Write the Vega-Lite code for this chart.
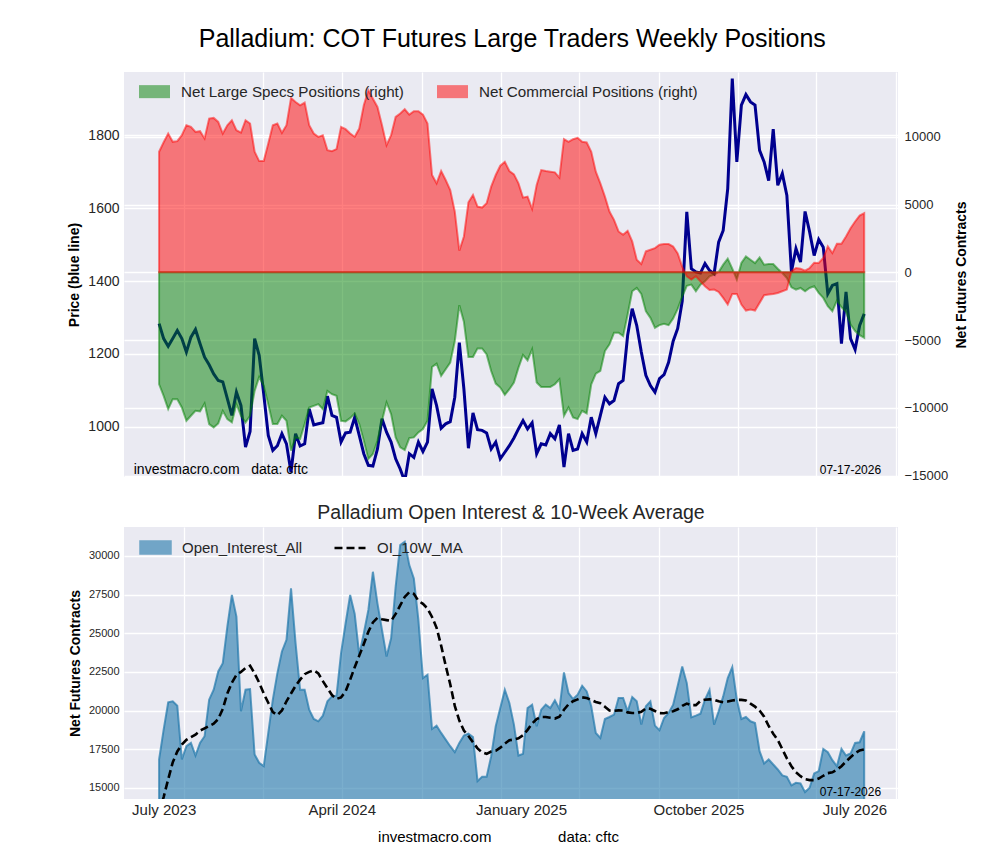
{
  "$schema": "https://vega.github.io/schema/vega-lite/v6.json",
  "background": "white",
  "padding": {"left": 67, "top": 27, "right": 5, "bottom": 5},
  "title": {"text": "Palladium: COT Futures Large Traders Weekly Positions", "fontSize": 25, "offset": 20, "dx": -6, "anchor": "middle", "color": "black", "fontWeight": "normal", "font": "Liberation Sans"},
  "datasets": {
    "cot": [
      {"date":"2023-07-25","price":1283,"specs":-8257,"comm":8894,"oi":16830,"ma":13400},
      {"date":"2023-08-01","price":1242,"specs":-9114,"comm":9600,"oi":18765,"ma":14400},
      {"date":"2023-08-08","price":1221,"specs":-10094,"comm":10241,"oi":20528,"ma":15550},
      {"date":"2023-08-15","price":1242,"specs":-9359,"comm":9628,"oi":20593,"ma":16650},
      {"date":"2023-08-22","price":1264,"specs":-9359,"comm":9677,"oi":20313,"ma":17350},
      {"date":"2023-08-29","price":1242,"specs":-9972,"comm":10118,"oi":16830,"ma":17800},
      {"date":"2023-09-05","price":1205,"specs":-10952,"comm":10853,"oi":17690,"ma":18100},
      {"date":"2023-09-12","price":1246,"specs":-10584,"comm":10731,"oi":17905,"ma":18280},
      {"date":"2023-09-19","price":1267,"specs":-10217,"comm":10363,"oi":17088,"ma":18440},
      {"date":"2023-09-26","price":1228,"specs":-10266,"comm":10412,"oi":17905,"ma":18700},
      {"date":"2023-10-03","price":1191,"specs":-9678,"comm":9873,"oi":18335,"ma":18850},
      {"date":"2023-10-10","price":1170,"specs":-11197,"comm":11343,"oi":20700,"ma":19000},
      {"date":"2023-10-17","price":1145,"specs":-11442,"comm":11392,"oi":21345,"ma":19150},
      {"date":"2023-10-24","price":1127,"specs":-11148,"comm":11098,"oi":22528,"ma":19450},
      {"date":"2023-10-31","price":1123,"specs":-10217,"comm":10241,"oi":23065,"ma":20100},
      {"date":"2023-11-07","price":1077,"specs":-10829,"comm":10853,"oi":25430,"ma":21100},
      {"date":"2023-11-14","price":1031,"specs":-11074,"comm":11221,"oi":27473,"ma":21800},
      {"date":"2023-11-21","price":1095,"specs":-9727,"comm":10486,"oi":26075,"ma":22300},
      {"date":"2023-11-28","price":1058,"specs":-10584,"comm":10314,"oi":19948,"ma":22500},
      {"date":"2023-12-05","price":944,"specs":-11074,"comm":11221,"oi":21345,"ma":22750},
      {"date":"2023-12-12","price":987,"specs":-10584,"comm":10976,"oi":21388,"ma":22900},
      {"date":"2023-12-19","price":1242,"specs":-8747,"comm":8894,"oi":17153,"ma":22400},
      {"date":"2023-12-26","price":1196,"specs":-7718,"comm":8208,"oi":16615,"ma":21800},
      {"date":"2024-01-02","price":1090,"specs":-8379,"comm":8208,"oi":16400,"ma":21100},
      {"date":"2024-01-09","price":976,"specs":-9727,"comm":9506,"oi":18550,"ma":20500},
      {"date":"2024-01-16","price":935,"specs":-11197,"comm":10853,"oi":20700,"ma":19900},
      {"date":"2024-01-23","price":948,"specs":-11197,"comm":10976,"oi":22420,"ma":19700},
      {"date":"2024-01-30","price":981,"specs":-10584,"comm":10290,"oi":23818,"ma":20000},
      {"date":"2024-02-06","price":953,"specs":-10952,"comm":10853,"oi":24570,"ma":20600},
      {"date":"2024-02-13","price":875,"specs":-13157,"comm":12863,"oi":27903,"ma":21100},
      {"date":"2024-02-20","price":981,"specs":-12177,"comm":12569,"oi":24355,"ma":21600},
      {"date":"2024-02-27","price":947,"specs":-12299,"comm":12324,"oi":21345,"ma":22000},
      {"date":"2024-03-05","price":953,"specs":-11197,"comm":12520,"oi":21345,"ma":22350},
      {"date":"2024-03-12","price":1049,"specs":-9972,"comm":10853,"oi":20055,"ma":22500},
      {"date":"2024-03-19","price":1005,"specs":-9849,"comm":10241,"oi":19453,"ma":22600},
      {"date":"2024-03-26","price":1008,"specs":-9727,"comm":9996,"oi":19303,"ma":22400},
      {"date":"2024-04-02","price":1011,"specs":-10094,"comm":10118,"oi":19668,"ma":21900},
      {"date":"2024-04-09","price":1084,"specs":-8747,"comm":9016,"oi":20593,"ma":21450},
      {"date":"2024-04-16","price":1031,"specs":-8992,"comm":8943,"oi":20915,"ma":21000},
      {"date":"2024-04-23","price":1026,"specs":-9114,"comm":9090,"oi":20958,"ma":20750},
      {"date":"2024-04-30","price":958,"specs":-10952,"comm":10731,"oi":23710,"ma":20850},
      {"date":"2024-05-07","price":983,"specs":-11000,"comm":10560,"oi":25645,"ma":21240},
      {"date":"2024-05-14","price":985,"specs":-10756,"comm":10241,"oi":27473,"ma":21990},
      {"date":"2024-05-21","price":1026,"specs":-10413,"comm":9996,"oi":26247,"ma":22800},
      {"date":"2024-05-28","price":976,"specs":-11197,"comm":10608,"oi":23603,"ma":23550},
      {"date":"2024-06-04","price":926,"specs":-12422,"comm":12324,"oi":24999,"ma":24300},
      {"date":"2024-06-11","price":894,"specs":-13769,"comm":13426,"oi":26505,"ma":25100},
      {"date":"2024-06-18","price":892,"specs":-13402,"comm":12814,"oi":28978,"ma":25700},
      {"date":"2024-06-25","price":939,"specs":-12422,"comm":12201,"oi":26935,"ma":26000},
      {"date":"2024-07-02","price":1022,"specs":-10952,"comm":10853,"oi":25215,"ma":25900},
      {"date":"2024-07-09","price":985,"specs":-9604,"comm":9384,"oi":23495,"ma":25850},
      {"date":"2024-07-16","price":958,"specs":-10462,"comm":10118,"oi":24678,"ma":25800},
      {"date":"2024-07-23","price":912,"specs":-12177,"comm":11466,"oi":28010,"ma":26250},
      {"date":"2024-07-30","price":884,"specs":-12912,"comm":11711,"oi":30698,"ma":26800},
      {"date":"2024-08-06","price":850,"specs":-13108,"comm":12030,"oi":30913,"ma":27350},
      {"date":"2024-08-13","price":926,"specs":-12226,"comm":11638,"oi":29408,"ma":27650},
      {"date":"2024-08-20","price":916,"specs":-12177,"comm":11883,"oi":28548,"ma":27550},
      {"date":"2024-08-27","price":958,"specs":-11809,"comm":11883,"oi":25860,"ma":27100},
      {"date":"2024-09-03","price":932,"specs":-11564,"comm":11638,"oi":22098,"ma":26900},
      {"date":"2024-09-10","price":958,"specs":-10952,"comm":10976,"oi":22313,"ma":26600},
      {"date":"2024-09-17","price":1104,"specs":-6983,"comm":7179,"oi":18808,"ma":26050},
      {"date":"2024-09-24","price":1058,"specs":-6738,"comm":6566,"oi":19023,"ma":25350},
      {"date":"2024-10-01","price":996,"specs":-7644,"comm":7473,"oi":18550,"ma":24200},
      {"date":"2024-10-08","price":1008,"specs":-7154,"comm":6811,"oi":18120,"ma":22900},
      {"date":"2024-10-15","price":1014,"specs":-6664,"comm":6076,"oi":17690,"ma":21700},
      {"date":"2024-10-22","price":1081,"specs":-5072,"comm":4484,"oi":17303,"ma":20300},
      {"date":"2024-10-29","price":1231,"specs":-2426,"comm":1593,"oi":17905,"ma":19350},
      {"date":"2024-11-05","price":1104,"specs":-3651,"comm":2646,"oi":18378,"ma":18700},
      {"date":"2024-11-12","price":941,"specs":-6248,"comm":5170,"oi":18507,"ma":18350},
      {"date":"2024-11-19","price":1038,"specs":-6248,"comm":5709,"oi":18292,"ma":17950},
      {"date":"2024-11-26","price":992,"specs":-5611,"comm":4851,"oi":15433,"ma":17550},
      {"date":"2024-12-03","price":990,"specs":-5611,"comm":4778,"oi":15712,"ma":17300},
      {"date":"2024-12-10","price":983,"specs":-6052,"comm":5096,"oi":15712,"ma":17200},
      {"date":"2024-12-17","price":939,"specs":-7277,"comm":6321,"oi":17045,"ma":17350},
      {"date":"2024-12-24","price":958,"specs":-8208,"comm":7179,"oi":18980,"ma":17400},
      {"date":"2024-12-31","price":912,"specs":-8500,"comm":7865,"oi":20163,"ma":17600},
      {"date":"2025-01-07","price":930,"specs":-9041,"comm":8159,"oi":21345,"ma":17850},
      {"date":"2025-01-14","price":948,"specs":-8624,"comm":7473,"oi":20485,"ma":18080},
      {"date":"2025-01-21","price":969,"specs":-8134,"comm":7228,"oi":19088,"ma":18120},
      {"date":"2025-01-28","price":994,"specs":-7032,"comm":6566,"oi":17088,"ma":18200},
      {"date":"2025-02-04","price":1017,"specs":-6101,"comm":5513,"oi":17196,"ma":18400},
      {"date":"2025-02-11","price":994,"specs":-6493,"comm":5586,"oi":20163,"ma":18750},
      {"date":"2025-02-18","price":1011,"specs":-5684,"comm":4680,"oi":20378,"ma":19150},
      {"date":"2025-02-25","price":926,"specs":-8134,"comm":6444,"oi":18980,"ma":19450},
      {"date":"2025-03-04","price":953,"specs":-8453,"comm":7546,"oi":20055,"ma":19580},
      {"date":"2025-03-11","price":950,"specs":-8453,"comm":7473,"oi":20378,"ma":19580},
      {"date":"2025-03-18","price":981,"specs":-8453,"comm":7424,"oi":20163,"ma":19530},
      {"date":"2025-03-25","price":967,"specs":-8257,"comm":7375,"oi":20657,"ma":19480},
      {"date":"2025-04-01","price":1005,"specs":-7889,"comm":6983,"oi":20098,"ma":19600},
      {"date":"2025-04-08","price":889,"specs":-10584,"comm":9824,"oi":22463,"ma":20050},
      {"date":"2025-04-15","price":981,"specs":-9972,"comm":9628,"oi":21130,"ma":20400},
      {"date":"2025-04-22","price":935,"specs":-10707,"comm":9824,"oi":20743,"ma":20600},
      {"date":"2025-04-29","price":939,"specs":-10829,"comm":9922,"oi":21023,"ma":20720},
      {"date":"2025-05-06","price":981,"specs":-10217,"comm":9628,"oi":21603,"ma":20850},
      {"date":"2025-05-13","price":958,"specs":-10413,"comm":9580,"oi":21238,"ma":20810},
      {"date":"2025-05-20","price":1026,"specs":-8257,"comm":8894,"oi":20270,"ma":20680},
      {"date":"2025-05-27","price":981,"specs":-7473,"comm":7424,"oi":18550,"ma":20550},
      {"date":"2025-06-03","price":1031,"specs":-7277,"comm":6566,"oi":18228,"ma":20470},
      {"date":"2025-06-10","price":1081,"specs":-5807,"comm":5586,"oi":19453,"ma":20250},
      {"date":"2025-06-17","price":1063,"specs":-5317,"comm":4484,"oi":19582,"ma":20000},
      {"date":"2025-06-24","price":1072,"specs":-4459,"comm":3871,"oi":19733,"ma":19980},
      {"date":"2025-07-01","price":1118,"specs":-4459,"comm":3014,"oi":20808,"ma":20010},
      {"date":"2025-07-08","price":1127,"specs":-4704,"comm":2769,"oi":20808,"ma":20000},
      {"date":"2025-07-15","price":1251,"specs":-3112,"comm":3063,"oi":19948,"ma":19880},
      {"date":"2025-07-22","price":1324,"specs":-1397,"comm":2279,"oi":20872,"ma":19840},
      {"date":"2025-07-29","price":1278,"specs":-1152,"comm":931,"oi":20593,"ma":19840},
      {"date":"2025-08-05","price":1205,"specs":-1593,"comm":613,"oi":19088,"ma":19920},
      {"date":"2025-08-12","price":1141,"specs":-2867,"comm":1544,"oi":20270,"ma":20140},
      {"date":"2025-08-19","price":1113,"specs":-3357,"comm":1666,"oi":20593,"ma":20110},
      {"date":"2025-08-26","price":1095,"specs":-4092,"comm":1789,"oi":19023,"ma":19970},
      {"date":"2025-09-02","price":1132,"specs":-3896,"comm":2034,"oi":18722,"ma":19830},
      {"date":"2025-09-09","price":1143,"specs":-3800,"comm":2083,"oi":19518,"ma":19820},
      {"date":"2025-09-16","price":1177,"specs":-3900,"comm":2083,"oi":19840,"ma":19900},
      {"date":"2025-09-23","price":1235,"specs":-3400,"comm":1900,"oi":20378,"ma":19950},
      {"date":"2025-09-30","price":1270,"specs":-2700,"comm":1400,"oi":21603,"ma":20080},
      {"date":"2025-10-07","price":1345,"specs":-1800,"comm":400,"oi":22850,"ma":20300},
      {"date":"2025-10-14","price":1590,"specs":-1000,"comm":-300,"oi":21775,"ma":20450},
      {"date":"2025-10-21","price":1434,"specs":-906,"comm":-539,"oi":19560,"ma":20350},
      {"date":"2025-10-28","price":1425,"specs":-1397,"comm":-294,"oi":19668,"ma":20350},
      {"date":"2025-11-04","price":1422,"specs":-906,"comm":-662,"oi":19797,"ma":20620},
      {"date":"2025-11-11","price":1448,"specs":-662,"comm":-1029,"oi":20700,"ma":20700},
      {"date":"2025-11-18","price":1429,"specs":-294,"comm":-1299,"oi":21345,"ma":20720},
      {"date":"2025-11-25","price":1420,"specs":-172,"comm":-1274,"oi":19088,"ma":20700},
      {"date":"2025-12-02","price":1507,"specs":24,"comm":-1446,"oi":19948,"ma":20600},
      {"date":"2025-12-09","price":1539,"specs":564,"comm":-1887,"oi":20915,"ma":20540},
      {"date":"2025-12-16","price":1654,"specs":1005,"comm":-2377,"oi":22098,"ma":20580},
      {"date":"2025-12-23","price":1956,"specs":270,"comm":-1593,"oi":22807,"ma":20650},
      {"date":"2025-12-30","price":1727,"specs":-539,"comm":-1593,"oi":20700,"ma":20690},
      {"date":"2026-01-06","price":1883,"specs":686,"comm":-2377,"oi":19453,"ma":20690},
      {"date":"2026-01-13","price":1912,"specs":1176,"comm":-2818,"oi":19582,"ma":20650},
      {"date":"2026-01-20","price":1892,"specs":931,"comm":-2744,"oi":19303,"ma":20450},
      {"date":"2026-01-27","price":1883,"specs":686,"comm":-2818,"oi":19195,"ma":20250},
      {"date":"2026-02-03","price":1759,"specs":1103,"comm":-2254,"oi":17368,"ma":20000},
      {"date":"2026-02-10","price":1727,"specs":564,"comm":-1691,"oi":16572,"ma":19600},
      {"date":"2026-02-17","price":1676,"specs":613,"comm":-1642,"oi":16830,"ma":19000},
      {"date":"2026-02-24","price":1817,"specs":613,"comm":-1593,"oi":16508,"ma":18500},
      {"date":"2026-03-03","price":1663,"specs":270,"comm":-1519,"oi":16185,"ma":18100},
      {"date":"2026-03-10","price":1695,"specs":-49,"comm":-1397,"oi":15798,"ma":17500},
      {"date":"2026-03-17","price":1635,"specs":-417,"comm":-1274,"oi":15712,"ma":16900},
      {"date":"2026-03-24","price":1426,"specs":-1103,"comm":74,"oi":15153,"ma":16400},
      {"date":"2026-03-31","price":1489,"specs":-1274,"comm":319,"oi":15325,"ma":16000},
      {"date":"2026-04-07","price":1452,"specs":-1152,"comm":270,"oi":15282,"ma":15750},
      {"date":"2026-04-14","price":1591,"specs":-1397,"comm":122,"oi":14723,"ma":15560},
      {"date":"2026-04-21","price":1535,"specs":-1152,"comm":319,"oi":15003,"ma":15500},
      {"date":"2026-04-28","price":1470,"specs":-1029,"comm":711,"oi":15927,"ma":15500},
      {"date":"2026-05-05","price":1514,"specs":-1519,"comm":686,"oi":16078,"ma":15600},
      {"date":"2026-05-12","price":1493,"specs":-1887,"comm":1054,"oi":17518,"ma":15780},
      {"date":"2026-05-19","price":1365,"specs":-2499,"comm":1911,"oi":17303,"ma":15950},
      {"date":"2026-05-26","price":1388,"specs":-2867,"comm":1421,"oi":16787,"ma":16000},
      {"date":"2026-06-02","price":1393,"specs":-2083,"comm":2107,"oi":16400,"ma":16170},
      {"date":"2026-06-09","price":1228,"specs":-2573,"comm":2107,"oi":17518,"ma":16400},
      {"date":"2026-06-16","price":1370,"specs":-2916,"comm":2646,"oi":17088,"ma":16700},
      {"date":"2026-06-23","price":1242,"specs":-3847,"comm":3259,"oi":17217,"ma":16980},
      {"date":"2026-06-30","price":1212,"specs":-4337,"comm":3749,"oi":17905,"ma":17230},
      {"date":"2026-07-07","price":1278,"specs":-4631,"comm":4190,"oi":17948,"ma":17420},
      {"date":"2026-07-14","price":1310,"specs":-4827,"comm":4361,"oi":18658,"ma":17480}
    ]
  },
  "data": {"name": "cot"},
  "spacing": 19,
  "resolve": {"scale": {"fill": "independent", "stroke": "independent"}},
  "vconcat": [
    {
      "width": 774,
      "height": 405,
      "layer": [
        {
          "layer": [
            {
              "mark": {"type": "line", "color": "#00008f", "strokeWidth": 3, "clip": true},
              "encoding": {
                "x": {"field": "date", "type": "temporal", "scale": {"domain": [{"year": 2023, "month": 6, "date": 1}, {"year": 2026, "month": 9, "date": 4}], "nice": false},
                  "axis": {"values": [{"year":2023,"month":9,"date":1},{"year":2024,"month":1,"date":1},{"year":2024,"month":5,"date":1},{"year":2024,"month":9,"date":1},{"year":2025,"month":1,"date":1},{"year":2025,"month":5,"date":1},{"year":2025,"month":9,"date":1},{"year":2026,"month":1,"date":1},{"year":2026,"month":5,"date":1},{"year":2026,"month":9,"date":1}], "labels": false, "title": null, "grid": true}},
                "y": {"field": "price", "type": "quantitative", "scale": {"domain": [862, 1974], "nice": false, "zero": false},
                  "axis": {"values": [1000, 1200, 1400, 1600, 1800], "format": "d", "title": "Price (blue line)", "titleFontSize": 14, "titleFontWeight": "bold", "labelFontSize": 14, "labelPadding": 5, "titlePadding": 6, "grid": true}}
              }
            },
            {
              "data": {"values": [{}]},
              "mark": {"type": "text", "align": "left", "baseline": "middle", "fontSize": 14, "color": "black", "font": "Liberation Sans"},
              "encoding": {
                "x": {"datum": {"year": 2023, "month": 6, "date": 16}, "type": "temporal"},
                "y": {"datum": 881, "type": "quantitative"},
                "text": {"value": "investmacro.com\u00a0\u00a0 data: cftc"}
              }
            },
            {
              "data": {"values": [{}]},
              "mark": {"type": "text", "align": "right", "baseline": "middle", "fontSize": 12, "color": "black", "font": "Liberation Sans"},
              "encoding": {
                "x": {"datum": {"year": 2026, "month": 8, "date": 9}, "type": "temporal"},
                "y": {"datum": 881, "type": "quantitative"},
                "text": {"value": "07-17-2026"}
              }
            }
          ]
        },
        {
          "transform": [{"fold": ["specs", "comm"], "as": ["series", "value"]}],
          "mark": {"type": "area", "fillOpacity": 0.5, "strokeOpacity": 0.5, "strokeWidth": 2, "clip": true},
          "encoding": {
            "x": {"field": "date", "type": "temporal"},
            "y": {"field": "value", "type": "quantitative", "stack": null, "scale": {"domain": [-15100, 14780], "nice": false, "zero": false},
              "axis": {"orient": "right", "values": [-15000, -10000, -5000, 0, 5000, 10000], "format": "d", "title": "Net Futures Contracts", "titleAngle": 270, "titleFontSize": 14, "titleFontWeight": "bold", "labelFontSize": 13, "labelPadding": 6, "titlePadding": 21, "grid": true}},
            "y2": {"datum": 0},
            "fill": {"field": "series", "type": "nominal", "scale": {"domain": ["specs", "comm"], "range": ["#008000", "#ff0000"]},
              "legend": {"orient": "none", "legendX": 15, "legendY": 4, "direction": "horizontal", "columns": 2, "title": null, "symbolType": "M-1,-0.42H1V0.42H-1Z", "symbolSize": 961, "symbolOpacity": 0.5, "symbolStrokeWidth": 0, "labelFontSize": 15.2, "labelLimit": 0, "labelOffset": 11, "columnPadding": 33, "labelExpr": "datum.label == 'specs' ? 'Net Large Specs Positions (right)' : 'Net Commercial Positions (right)'"}},
            "stroke": {"field": "series", "type": "nominal", "scale": {"domain": ["specs", "comm"], "range": ["#008000", "#ff0000"]}, "legend": null}
          }
        }
      ],
      "resolve": {"scale": {"y": "independent"}}
    },
    {
      "width": 774,
      "height": 272,
      "title": {"text": "Palladium Open Interest & 10-Week Average", "fontSize": 19.5, "offset": 4, "color": "#262626", "fontWeight": "normal", "font": "Liberation Sans"},
      "layer": [
        {
          "mark": {"type": "area", "fillOpacity": 0.6, "stroke": "#2178ab", "strokeOpacity": 0.7, "strokeWidth": 2, "clip": true},
          "encoding": {
            "x": {"field": "date", "type": "temporal", "scale": {"domain": [{"year": 2023, "month": 6, "date": 1}, {"year": 2026, "month": 9, "date": 4}], "nice": false},
              "axis": {
                "values": [{"year":2023,"month":8,"date":1},{"year":2023,"month":9,"date":1},{"year":2024,"month":1,"date":1},{"year":2024,"month":5,"date":1},{"year":2024,"month":9,"date":1},{"year":2025,"month":1,"date":1},{"year":2025,"month":2,"date":1},{"year":2025,"month":5,"date":1},{"year":2025,"month":9,"date":1},{"year":2025,"month":11,"date":1},{"year":2026,"month":1,"date":1},{"year":2026,"month":5,"date":1},{"year":2026,"month":6,"date":29},{"year":2026,"month":9,"date":1}],
                "labelExpr": "year(datum.value)==2023 && month(datum.value)==7 ? 'July 2023' : (year(datum.value)==2024 && month(datum.value)==4 ? 'April 2024' : (year(datum.value)==2025 && month(datum.value)==1 ? 'January 2025' : (year(datum.value)==2025 && month(datum.value)==10 ? 'October 2025' : (year(datum.value)==2026 && month(datum.value)==5 && date(datum.value)==29 ? 'July 2026' : ''))))",
                "gridOpacity": {"condition": {"test": "date(datum.value)==1 && month(datum.value)%4==0", "value": 1}, "value": 0},
                "labelOverlap": false, "labelFlush": false, "labelFontSize": 15, "labelPadding": 3,
                "title": "investmacro.com\u00a0\u00a0\u00a0\u00a0\u00a0\u00a0\u00a0\u00a0\u00a0\u00a0\u00a0\u00a0\u00a0\u00a0\u00a0\u00a0data: cftc",
                "titleFontSize": 15, "titleFontWeight": "normal", "titleColor": "black", "titlePadding": 12, "titleX": 374, "grid": true}},
            "y": {"field": "oi", "type": "quantitative", "scale": {"domain": [14276, 31873], "nice": false, "zero": false},
              "axis": {"values": [15000, 17500, 20000, 22500, 25000, 27500, 30000], "format": "d", "title": "Net Futures Contracts", "titleFontSize": 14, "titleFontWeight": "bold", "labelFontSize": 11, "labelPadding": 5, "titlePadding": 6, "grid": true}},
            "y2": {"datum": 0},
            "fill": {"datum": "Open_Interest_All", "type": "nominal", "scale": {"range": ["#2178ab"]},
              "legend": {"orient": "none", "legendX": 15, "legendY": 4, "title": null, "symbolType": "M-1,-0.42H1V0.42H-1Z", "symbolSize": 961, "symbolOpacity": 0.6, "symbolStrokeColor": "#2178ab", "symbolStrokeWidth": 1.5, "labelFontSize": 15, "labelLimit": 0, "labelOffset": 10}}
          }
        },
        {
          "mark": {"type": "line", "strokeDash": [8, 4], "strokeWidth": 2.6, "clip": true},
          "encoding": {
            "x": {"field": "date", "type": "temporal"},
            "y": {"field": "ma", "type": "quantitative", "scale": {"domain": [14276, 31873], "nice": false, "zero": false}},
            "stroke": {"datum": "OI_10W_MA", "type": "nominal", "scale": {"range": ["black"]},
              "legend": {"orient": "none", "legendX": 209, "legendY": 4, "title": null, "symbolType": "M-1,0H1", "symbolSize": 961, "symbolStrokeWidth": 2.6, "symbolDash": [8, 4], "labelFontSize": 15, "labelLimit": 0, "labelOffset": 10}}
          }
        },
        {
          "data": {"values": [{}]},
          "mark": {"type": "text", "align": "right", "baseline": "middle", "fontSize": 12, "color": "black", "font": "Liberation Sans"},
          "encoding": {
            "x": {"datum": {"year": 2026, "month": 8, "date": 9}, "type": "temporal"},
            "y": {"datum": 14700, "type": "quantitative"},
            "text": {"value": "07-17-2026"}
          }
        }
      ]
    }
  ],
  "config": {
    "font": "Liberation Sans",
    "view": {"fill": "#EAEAF2", "stroke": null},
    "axis": {"gridColor": "white", "gridWidth": 1.3, "domain": false, "ticks": false, "labelColor": "#262626", "titleColor": "black", "labelFont": "Liberation Sans", "titleFont": "Liberation Sans"},
    "legend": {"labelFont": "Liberation Sans", "labelColor": "#262626", "padding": 0}
  }
}
